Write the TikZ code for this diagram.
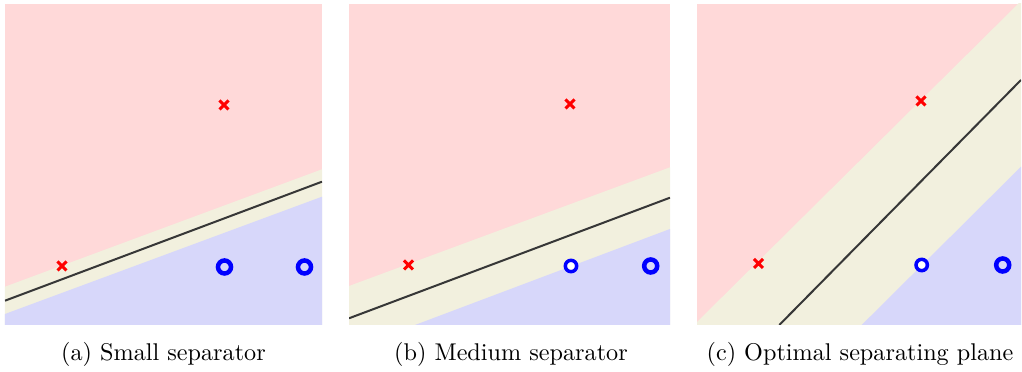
\documentclass[tikz,border=0pt]{standalone}
\definecolor{pinkbg}{RGB}{255,217,217}
\definecolor{creambg}{RGB}{242,240,222}
\definecolor{bluebg}{RGB}{215,215,250}
\definecolor{sepline}{RGB}{55,55,55}
\begin{document}
\begin{tikzpicture}[x=0.4132pt,y=-0.4132pt,
  pinkfill/.style={fill=pinkbg},
  creamfill/.style={fill=creambg},
  bluefill/.style={fill=bluebg},
  sep/.style={draw=sepline,line width=0.83pt},
  xmark/.pic={\draw[red,line width=1.24pt] (-4.5,-4.5) -- (4.5,4.5) (-4.5,4.5) -- (4.5,-4.5);},
  bigring/.pic={\draw[blue,line width=1.86pt] (0,0) circle[radius=2.69pt];},
  smallring/.pic={\draw[blue,fill=white,line width=1.45pt] (0,0) circle[radius=2.35pt];},
  captext/.style={anchor=base,inner sep=0pt}]
\useasboundingbox (0,0) rectangle (1022,372);
% ---------- panel (a)
\begin{scope}
\clip (5,4) rectangle (322,325);
\fill[pinkfill] (5,4) rectangle (322,325);
\fill[creamfill] (5,286.7) -- (322,169.3) -- (322,325) -- (5,325) -- cycle;
\fill[bluefill] (5,314) -- (322,196.7) -- (322,325) -- (5,325) -- cycle;
\coordinate (a1) at (5,300.7);
\coordinate (a2) at (322,181.7);
\draw[sep] (a1) -- (a2);
\end{scope}
\pic at (62,266) {xmark};
\pic at (224,105) {xmark};
\pic at (224.5,267) {bigring};
\pic at (304.5,267) {bigring};
\node[captext] (capa) at (163.5,361) {(a) Small separator};
% ---------- panel (b)
\begin{scope}
\clip (349,4) rectangle (670,325);
\fill[pinkfill] (349,4) rectangle (670,325);
\fill[creamfill] (349,286) -- (670,167.3) -- (670,325) -- (349,325) -- cycle;
\fill[bluefill] (415,325) -- (670,229) -- (670,325) -- cycle;
\coordinate (b1) at (349,318.3);
\coordinate (b2) at (670,197.7);
\draw[sep] (b1) -- (b2);
\end{scope}
\pic at (408.5,265) {xmark};
\pic at (570,104) {xmark};
\pic at (571,266) {smallring};
\pic at (650.7,266) {bigring};
\node[captext] (capb) at (511,361) {(b) Medium separator};
% ---------- panel (c)
\begin{scope}
\clip (697,4) rectangle (1021,325);
\fill[pinkfill] (697,4) rectangle (1021,325);
\fill[creamfill] (694,325) -- (1021,1) -- (1021,325) -- cycle;
\fill[bluefill] (861.7,325) -- (1021,166.7) -- (1021,325) -- cycle;
\coordinate (c1) at (779.3,325);
\coordinate (c2) at (1021,80);
\draw[sep] (c1) -- (c2);
\end{scope}
\pic at (758.5,263.5) {xmark};
\pic at (921,101) {xmark};
\pic at (921.7,265) {smallring};
\pic at (1002.7,265) {bigring};
\node[captext] (capc) at (860,361) {(c) Optimal separating plane};
\end{tikzpicture}
\end{document}
